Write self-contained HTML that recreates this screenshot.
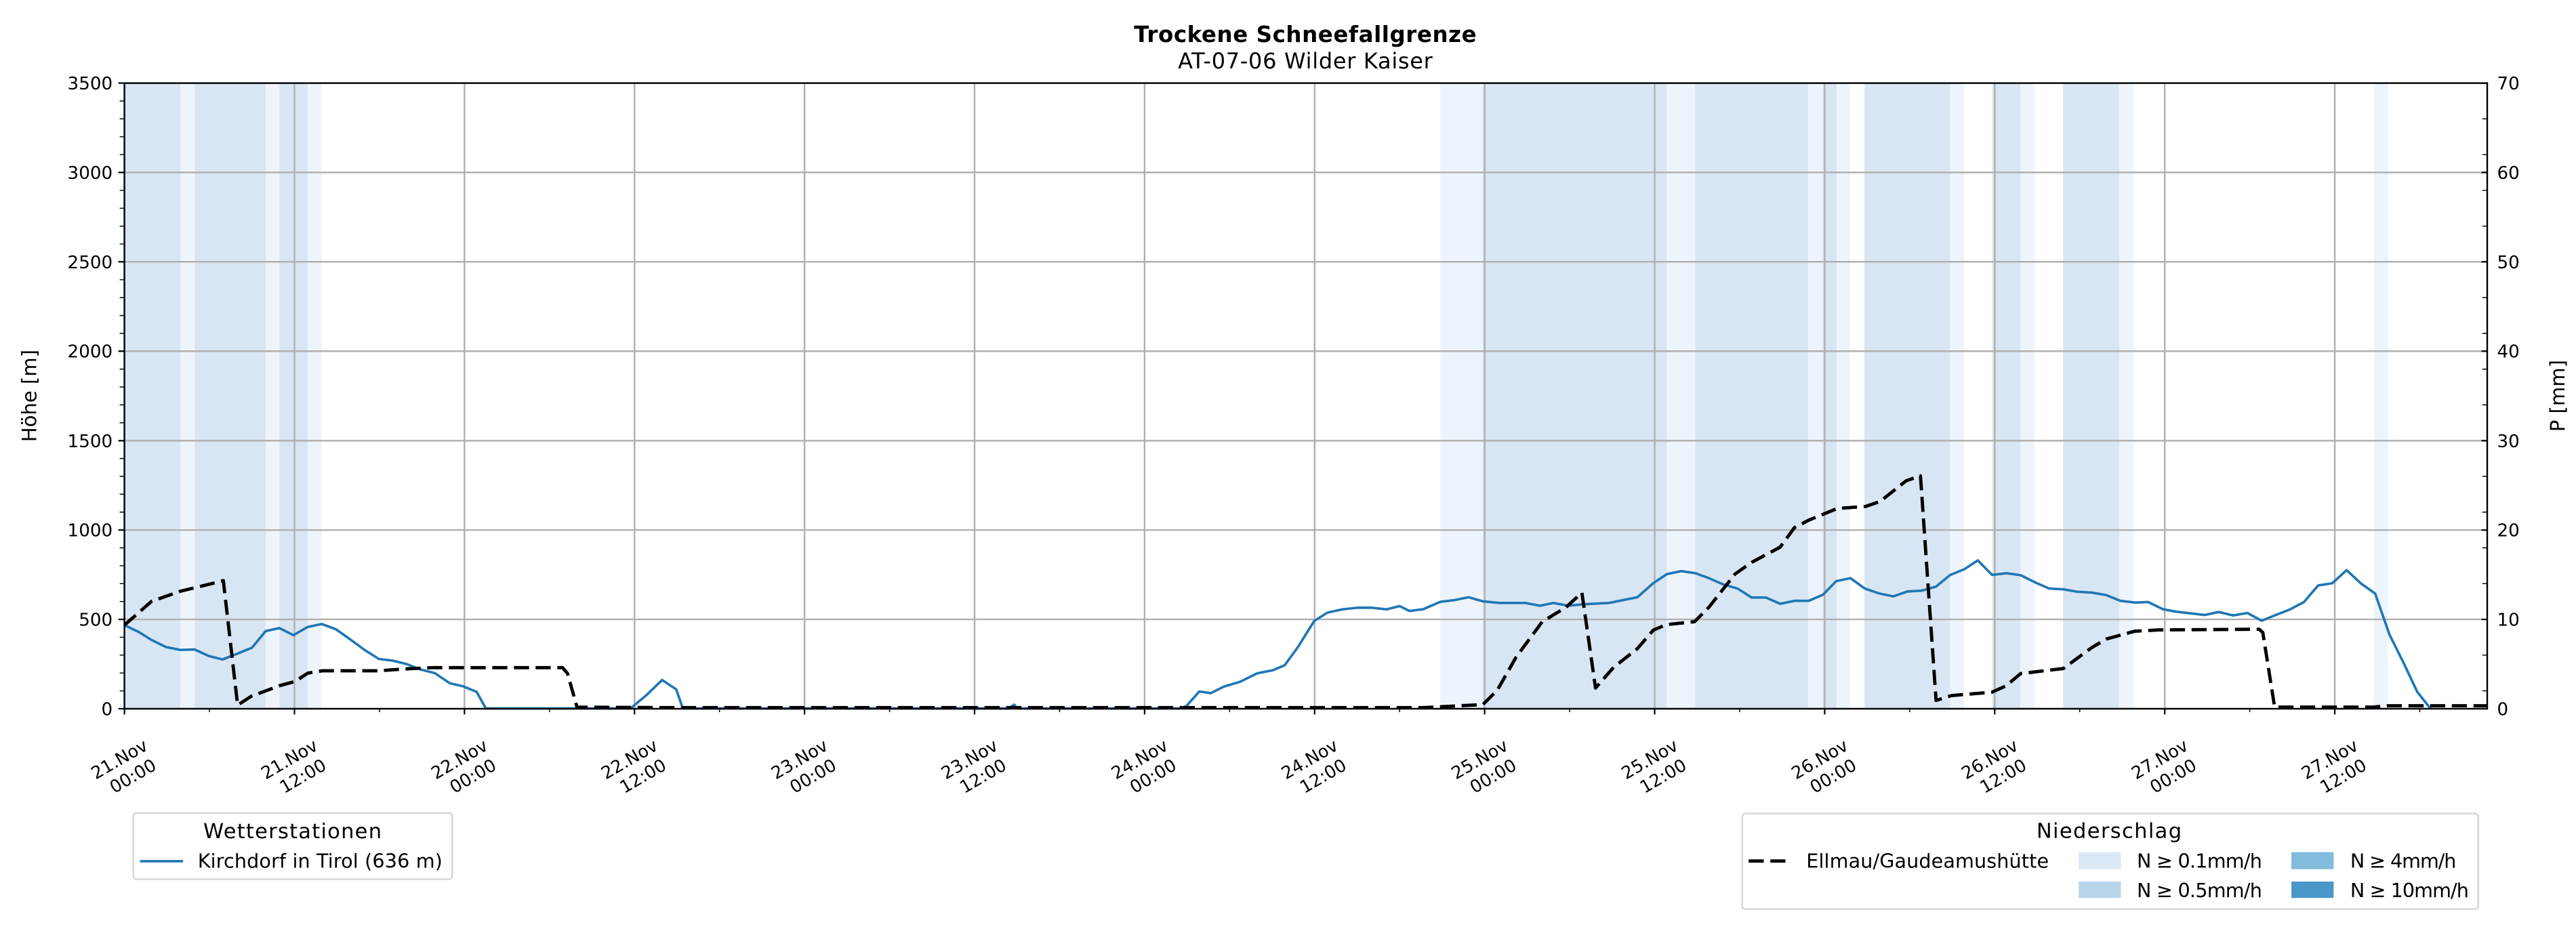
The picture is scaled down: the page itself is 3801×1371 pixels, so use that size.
<!DOCTYPE html>
<html><head><meta charset="utf-8"><style>
html,body{margin:0;padding:0;background:#fff;}
svg{display:block;}
text{font-family:"DejaVu Sans","Liberation Sans",sans-serif;fill:#000;}
</style></head><body>
<svg width="3801" height="1371" viewBox="0 0 1568 565.6" xmlns="http://www.w3.org/2000/svg">
<rect x="0" y="0" width="1568" height="565.6" fill="#fff"/>
<g fill="#d8e6f3">
<rect x="75.7" y="50.6" width="34.1" height="380.9"/>
<rect x="118.4" y="50.6" width="43.3" height="380.9"/>
<rect x="170" y="50.6" width="17.3" height="380.9"/>
<rect x="902.5" y="50.6" width="112" height="380.9"/>
<rect x="1031.8" y="50.6" width="68.8" height="380.9"/>
<rect x="1109.4" y="50.6" width="8.6" height="380.9"/>
<rect x="1134.9" y="50.6" width="52.1" height="380.9"/>
<rect x="1212.8" y="50.6" width="17" height="380.9"/>
<rect x="1255.8" y="50.6" width="34.2" height="380.9"/>
</g>
<g fill="#eef4fb">
<rect x="109.8" y="50.6" width="8.6" height="380.9"/>
<rect x="161.7" y="50.6" width="8.3" height="380.9"/>
<rect x="187.3" y="50.6" width="8.5" height="380.9"/>
<rect x="876.7" y="50.6" width="25.8" height="380.9"/>
<rect x="1014.5" y="50.6" width="17.3" height="380.9"/>
<rect x="1100.6" y="50.6" width="8.8" height="380.9"/>
<rect x="1118" y="50.6" width="8.2" height="380.9"/>
<rect x="1187" y="50.6" width="8.5" height="380.9"/>
<rect x="1229.8" y="50.6" width="8.6" height="380.9"/>
<rect x="1290" y="50.6" width="8.7" height="380.9"/>
<rect x="1445" y="50.6" width="8.6" height="380.9"/>
</g>
<g stroke="#b0b0b0" stroke-width="1" fill="none">
<path d="M75.7 377.1H1514M75.7 322.7H1514M75.7 268.3H1514M75.7 213.8H1514M75.7 159.4H1514M75.7 105H1514"/>
<path d="M179.2 50.6V431.5M282.7 50.6V431.5M386.2 50.6V431.5M489.7 50.6V431.5M593.2 50.6V431.5M696.7 50.6V431.5M800.2 50.6V431.5M903.7 50.6V431.5M1007.2 50.6V431.5M1110.7 50.6V431.5M1214.2 50.6V431.5M1317.7 50.6V431.5M1421.2 50.6V431.5"/>
</g>
<polyline fill="none" stroke="#1f77b4" stroke-width="1.5" stroke-linejoin="round" points="
75.7,380.6 84.7,384.9 92.1,389.6 100.9,393.9 109.8,395.7 118.4,395.4 127.1,399.4 135.5,401.5 144.6,397.9 153.4,394.3 161.7,384.2 170,382.4 178.6,386.7 187.3,381.7 195.8,379.9 204.4,383.1 213.6,389.6 221.9,395.7 230.6,401.2 239,402.2 247.5,404.3 256,407.6 264.6,409.8 273.8,416 281.7,417.8 290.1,421.2 295.7,431.3 383.8,431.3 393.8,422.9 403,414 411.6,419.7 415.6,431.3 614,431.3 617.3,429 619,431.3 718,431.3 722,430 730,421 737,422 745,418 755,415 765,410 775,408 782,405 790,394 800,378 808,373 817,371 826,370 835,370 844,371 852,369 858,372 866.3,370.9 876.7,366.4 885.2,365.4 893.9,363.6 902.6,366.1 912.7,367.1 928.6,367.1 937.4,368.8 945.5,367.1 954.8,368.8 963.4,367.9 979.4,367.1 996.7,363.6 1006.4,355 1014.7,349.5 1023.4,347.7 1032.1,349 1040.2,352 1048.9,355.8 1057.6,358.3 1066.2,363.8 1074.9,363.8 1083.6,367.6 1092.3,365.8 1101,365.8 1109.6,362.1 1117.7,353.8 1126.4,352 1135.1,358.3 1143.8,361.3 1152.4,363.1 1161.1,360.1 1169.8,359.6 1178.5,357.1 1187.2,350 1195.8,346.5 1203.9,341.2 1212.6,350 1221.3,349 1230,350.2 1238.6,354.5 1247.3,358.3 1256,358.8 1264.7,360.3 1273.4,360.8 1282,362.3 1290.7,365.8 1299.9,366.9 1307.5,366.5 1316.6,370.9 1324.6,372.4 1342,374.4 1350.6,372.6 1359.3,374.7 1368,373.2 1376.7,377.9 1385.3,374.4 1394,371 1402.4,366.6 1411.1,356.4 1419.7,355.1 1428.4,347.1 1437.1,355.2 1445.8,361.4 1454.5,386.4 1463.1,403.6 1471.4,421.2 1479.4,431.3"/>
<polyline fill="none" stroke="#000" stroke-width="2" stroke-dasharray="9.2 4" stroke-linejoin="round" points="
75.7,380.6 92.1,366.2 109.6,360 128.9,355.3 135.9,353.5 144.6,429.3 152.9,423.9 170.3,417.4 179.6,414.9 187.3,409.8 196.1,408.4 230.2,408.4 247.5,407.2 263.3,406.5 342.4,406.5 345.4,410 351.2,430.5 400,430.8 600,430.8 866.3,430.8 902.6,429 911.4,420.2 922.9,400 938.8,378.5 953.3,369.7 962.9,360.8 971.2,418.9 982.2,406.3 996.7,394.9 1006.4,383.6 1014.2,380.3 1031.5,378.5 1040.2,369.7 1056.1,349.5 1066.2,342.4 1083.6,333.1 1092.3,321.2 1101,316.7 1118.3,309.6 1135.7,308.3 1144.4,305.3 1160.3,292.7 1169,289.7 1178.5,426.5 1187.8,423.5 1212.6,421.4 1221,417.6 1230,410.1 1256,407 1273.1,394.4 1282,389.1 1299.4,384.3 1314.4,383.5 1375.2,383.1 1377.4,385.1 1384.6,430.5 1444.6,430.5 1453.3,429.7 1514,429.7"/>
<rect x="75.7" y="50.6" width="1438.3" height="380.9" fill="none" stroke="#000" stroke-width="1"/>
<path stroke="#000" stroke-width="0.9" fill="none" d="M72 431.5H75.7M72 377.1H75.7M72 322.7H75.7M72 268.3H75.7M72 213.8H75.7M72 159.4H75.7M72 105H75.7M72 50.6H75.7"/>
<line x1="74.1" y1="50.6" x2="74.1" y2="431.5" stroke="#000" stroke-width="2.6" stroke-dasharray="0.6 10.283" stroke-dashoffset="0.3"/>
<path stroke="#000" stroke-width="0.9" fill="none" d="M1510.5 431.5H1514M1510.5 377.1H1514M1510.5 322.7H1514M1510.5 268.3H1514M1510.5 213.8H1514M1510.5 159.4H1514M1510.5 105H1514M1510.5 50.6H1514"/>
<line x1="1512.5" y1="50.6" x2="1512.5" y2="431.5" stroke="#000" stroke-width="3" stroke-dasharray="0.6 21.166" stroke-dashoffset="0.3"/>
<path stroke="#000" stroke-width="0.9" fill="none" d="M75.7 431.5V435M179.2 431.5V435M282.7 431.5V435M386.2 431.5V435M489.7 431.5V435M593.2 431.5V435M696.7 431.5V435M800.2 431.5V435M903.7 431.5V435M1007.2 431.5V435M1110.7 431.5V435M1214.2 431.5V435M1317.7 431.5V435M1421.2 431.5V435"/>
<path stroke="#000" stroke-width="0.6" fill="none" d="M127.45 431.5V433.6M230.95 431.5V433.6M334.45 431.5V433.6M437.95 431.5V433.6M541.45 431.5V433.6M644.95 431.5V433.6M748.45 431.5V433.6M851.95 431.5V433.6M955.45 431.5V433.6M1058.95 431.5V433.6M1162.45 431.5V433.6M1265.95 431.5V433.6M1369.45 431.5V433.6M1472.95 431.5V433.6"/>
<g font-size="10.8" text-anchor="end">
<text x="68.5" y="435.4">0</text>
<text x="68.5" y="381">500</text>
<text x="68.5" y="326.6">1000</text>
<text x="68.5" y="272.2">1500</text>
<text x="68.5" y="217.7">2000</text>
<text x="68.5" y="163.3">2500</text>
<text x="68.5" y="108.9">3000</text>
<text x="68.5" y="54.5">3500</text>
</g>
<g font-size="10.8">
<text x="1520" y="435.4">0</text>
<text x="1520" y="381">10</text>
<text x="1520" y="326.6">20</text>
<text x="1520" y="272.2">30</text>
<text x="1520" y="217.7">40</text>
<text x="1520" y="163.3">50</text>
<text x="1520" y="108.9">60</text>
<text x="1520" y="54.5">70</text>
</g>
<text font-size="12" text-anchor="middle" transform="translate(22,241) rotate(-90)">Höhe [m]</text>
<text font-size="12" text-anchor="middle" transform="translate(1561,241) rotate(-90)">P [mm]</text>
<text x="794.5" y="25.5" font-size="13.4" font-weight="bold" text-anchor="middle" textLength="208.5">Trockene Schneefallgrenze</text>
<text x="794.5" y="41.7" font-size="13.2" text-anchor="middle" textLength="155">AT-07-06 Wilder Kaiser</text>
<g font-size="10.6" text-anchor="end">
<g transform="translate(90.7,456) rotate(-30)"><text x="0" y="0">21.Nov</text><text x="-1.5" y="13">00:00</text></g>
<g transform="translate(194.2,456) rotate(-30)"><text x="0" y="0">21.Nov</text><text x="-1.5" y="13">12:00</text></g>
<g transform="translate(297.7,456) rotate(-30)"><text x="0" y="0">22.Nov</text><text x="-1.5" y="13">00:00</text></g>
<g transform="translate(401.2,456) rotate(-30)"><text x="0" y="0">22.Nov</text><text x="-1.5" y="13">12:00</text></g>
<g transform="translate(504.7,456) rotate(-30)"><text x="0" y="0">23.Nov</text><text x="-1.5" y="13">00:00</text></g>
<g transform="translate(608.2,456) rotate(-30)"><text x="0" y="0">23.Nov</text><text x="-1.5" y="13">12:00</text></g>
<g transform="translate(711.7,456) rotate(-30)"><text x="0" y="0">24.Nov</text><text x="-1.5" y="13">00:00</text></g>
<g transform="translate(815.2,456) rotate(-30)"><text x="0" y="0">24.Nov</text><text x="-1.5" y="13">12:00</text></g>
<g transform="translate(918.7,456) rotate(-30)"><text x="0" y="0">25.Nov</text><text x="-1.5" y="13">00:00</text></g>
<g transform="translate(1022.2,456) rotate(-30)"><text x="0" y="0">25.Nov</text><text x="-1.5" y="13">12:00</text></g>
<g transform="translate(1125.7,456) rotate(-30)"><text x="0" y="0">26.Nov</text><text x="-1.5" y="13">00:00</text></g>
<g transform="translate(1229.2,456) rotate(-30)"><text x="0" y="0">26.Nov</text><text x="-1.5" y="13">12:00</text></g>
<g transform="translate(1332.7,456) rotate(-30)"><text x="0" y="0">27.Nov</text><text x="-1.5" y="13">00:00</text></g>
<g transform="translate(1436.2,456) rotate(-30)"><text x="0" y="0">27.Nov</text><text x="-1.5" y="13">12:00</text></g>
</g>
<rect x="81.1" y="495" width="194.1" height="40.3" rx="2" fill="#fff" stroke="#d5d5d5" stroke-width="1"/>
<text x="178" y="510.4" font-size="12.6" text-anchor="middle" textLength="108.5">Wetterstationen</text>
<line x1="85.2" y1="524.3" x2="111.4" y2="524.3" stroke="#1f77b4" stroke-width="1.5"/>
<text x="120.3" y="528.3" font-size="11.8" textLength="149">Kirchdorf in Tirol (636 m)</text>
<rect x="1060.5" y="495.3" width="448" height="58.2" rx="2" fill="#fff" stroke="#d5d5d5" stroke-width="1"/>
<text x="1283.8" y="510.2" font-size="12.6" text-anchor="middle" textLength="88.4">Niederschlag</text>
<line x1="1064.4" y1="524.2" x2="1088" y2="524.2" stroke="#000" stroke-width="2" stroke-dasharray="9.2 4"/>
<text x="1099.5" y="528.3" font-size="11.8" textLength="147.6">Ellmau/Gaudeamushütte</text>
<rect x="1265.3" y="518.8" width="25.7" height="10.4" fill="#dae8f5"/>
<text x="1300.7" y="528.3" font-size="11.8" textLength="76.3">N ≥ 0.1mm/h</text>
<rect x="1394.8" y="518.8" width="25.7" height="10.4" fill="#82bbdb"/>
<text x="1430.6" y="528.3" font-size="11.8" textLength="64.6">N ≥ 4mm/h</text>
<rect x="1265.3" y="536.7" width="25.7" height="10" fill="#b9d5ea"/>
<text x="1300.7" y="546.3" font-size="11.8" textLength="76.3">N ≥ 0.5mm/h</text>
<rect x="1394.8" y="536.7" width="25.7" height="10" fill="#4a98c9"/>
<text x="1430.6" y="546.3" font-size="11.8" textLength="72.2">N ≥ 10mm/h</text>
</svg>
</body></html>
